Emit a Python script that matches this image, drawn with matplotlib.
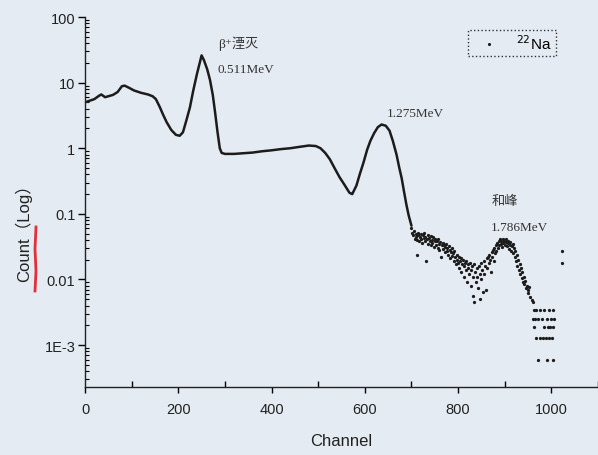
import matplotlib
matplotlib.use("Agg")
import matplotlib.pyplot as plt
from matplotlib.ticker import FixedLocator, FixedFormatter, NullFormatter
from matplotlib.lines import Line2D

# ---- data: smooth part of the 22Na spectrum (channel, count) ----
smooth_ch = [0, 10, 20, 30, 35, 43, 50, 60, 70, 79, 85, 95, 105, 120, 135, 145,
             152, 160, 167, 175, 185, 195, 203, 210, 217, 225, 232, 240, 246, 250,
             255, 262, 268, 274, 279, 284, 289, 293, 300, 320, 340, 360, 380, 400,
             420, 440, 460, 480, 495, 505, 515, 525, 535, 546, 556, 567, 573, 582,
             590, 597, 605, 612, 620, 628, 636, 645, 653, 660, 668, 674, 679, 684,
             689, 694, 700]
smooth_ct = [5.0, 5.3, 5.6, 6.3, 6.6, 6.0, 6.2, 6.5, 7.2, 8.8, 9.0, 8.3, 7.6, 7.0,
             6.6, 6.2, 5.6, 4.3, 3.3, 2.5, 1.9, 1.6, 1.55, 1.75, 2.6, 4.2, 7.5, 13.5,
             20, 26, 22, 16, 11, 6.5, 3.5, 1.8, 1.0, 0.85, 0.82, 0.82, 0.84, 0.86,
             0.9, 0.93, 0.97, 1.0, 1.05, 1.1, 1.08, 1.0, 0.85, 0.68, 0.5, 0.36, 0.28,
             0.21, 0.20, 0.27, 0.42, 0.6, 0.95, 1.3, 1.7, 2.1, 2.3, 2.2, 1.85, 1.3,
             0.8, 0.5, 0.35, 0.22, 0.14, 0.095, 0.066]

# ---- data: scattered low-count part (channel, count) ----
scatter_ch = [700, 702, 704, 706, 707, 709, 710, 711, 712, 714, 715, 717, 718, 720,
              721, 723, 724, 726, 727, 729, 730, 732, 733, 735, 736, 738, 739, 741,
              742, 744, 745, 747, 748, 750, 751, 753, 754, 756, 757, 759, 760, 762,
              764, 765, 767, 768, 770, 771, 773, 774, 776, 777, 779, 780, 782, 783,
              785, 786, 788, 789, 791, 792, 794, 795, 797, 798,
              800, 801, 803, 804, 806, 807, 809, 810, 812, 813, 815, 816, 818, 819,
              821, 822, 824, 825, 827, 828, 830, 831, 833, 834, 835, 837, 838, 840,
              841, 843, 844, 846, 847, 849, 850, 852, 853, 855, 856, 858, 860, 861,
              863, 864, 866, 867, 869, 870, 872, 873, 875, 876, 878, 879, 881, 882,
              884, 885, 887, 888, 890, 891, 893, 894, 896, 897, 899, 900, 902, 903,
              905, 906, 908, 909, 911, 912, 914, 915, 917, 918, 920, 921, 923, 924,
              926, 927, 929, 930, 932, 933, 935, 936, 938, 939, 941, 942, 944, 945,
              947, 949, 950, 953, 955, 958, 960,
              962, 968, 975, 985, 996, 1003,
              960, 965, 972, 980, 991, 1000, 1005,
              963, 985, 992, 998, 1004,
              966, 975, 982, 988, 994, 1002,
              971, 990, 1003,
              1022, 1023]
scatter_ct = [0.060, 0.052, 0.048, 0.055, 0.042, 0.050, 0.045, 0.024, 0.040, 0.052,
              0.047, 0.038, 0.044, 0.050, 0.041, 0.036, 0.047, 0.043, 0.052, 0.039,
              0.045, 0.019, 0.041, 0.048, 0.035, 0.043, 0.038, 0.046, 0.033, 0.040,
              0.036, 0.044, 0.031, 0.039, 0.042, 0.034, 0.038, 0.030, 0.041, 0.035,
              0.028, 0.037, 0.022, 0.033, 0.036, 0.029, 0.034, 0.026, 0.031, 0.035,
              0.027, 0.030, 0.024, 0.032, 0.028, 0.021, 0.026, 0.030, 0.023, 0.025,
              0.019, 0.027, 0.022, 0.017, 0.024, 0.020,
              0.018, 0.022, 0.015, 0.019, 0.021, 0.013, 0.017, 0.020, 0.011, 0.016,
              0.018, 0.014, 0.019, 0.009, 0.015, 0.017, 0.012, 0.018, 0.008, 0.014,
              0.016, 0.0057, 0.011, 0.017, 0.0045, 0.013, 0.009, 0.015, 0.011, 0.0075,
              0.016, 0.005, 0.012, 0.018, 0.010, 0.014, 0.0065, 0.019, 0.012, 0.016,
              0.0068, 0.021, 0.015, 0.022, 0.018, 0.024, 0.020, 0.013, 0.026, 0.022,
              0.028, 0.019, 0.030, 0.025, 0.033, 0.027, 0.036, 0.030, 0.038, 0.033,
              0.041, 0.035, 0.038, 0.031, 0.042, 0.036, 0.039, 0.034, 0.037, 0.041,
              0.032, 0.036, 0.038, 0.029, 0.034, 0.037, 0.027, 0.032, 0.035, 0.025,
              0.030, 0.022, 0.027, 0.019, 0.024, 0.016, 0.020, 0.014, 0.017, 0.012,
              0.015, 0.0105, 0.013, 0.009, 0.011, 0.0085, 0.0095, 0.0075, 0.008,
              0.0068, 0.0062, 0.0076, 0.0055, 0.0048, 0.0045,
              0.0034, 0.0034, 0.0034, 0.0034, 0.0034, 0.0034,
              0.0025, 0.0025, 0.0025, 0.0025, 0.0025, 0.0025, 0.0025,
              0.0019, 0.0019, 0.0019, 0.0019, 0.0019,
              0.0013, 0.0013, 0.0013, 0.0013, 0.0013, 0.0013,
              0.0006, 0.0006, 0.0006,
              0.027, 0.018]

ytick_vals = [1e-3, 1e-2, 1e-1, 1, 10, 100]
ytick_labels = ["1E-3", "0.01", "0.1", "1", "10", "100"]
xtick_vals = [0, 200, 400, 600, 800, 1000]
xtick_labels = ["0", "200", "400", "600", "800", "1000"]

bg = "#e5ebf3"
ink = "#1c1c1c"
sans = ["Liberation Sans", "Noto Sans CJK SC"]
serif = ["Liberation Serif", "DejaVu Serif", "Noto Sans CJK SC"]

fig = plt.figure(figsize=(5.98, 4.56), dpi=100, facecolor=bg)
ax = fig.add_axes([85 / 598, 68 / 456, 513 / 598, 370 / 456])
ax.set_facecolor(bg)

ax.plot(smooth_ch, smooth_ct, color=ink, lw=1.8, solid_capstyle="round")
ax.scatter(scatter_ch, scatter_ct, s=5.5, color=ink, linewidths=0)

ax.set_yscale("log")
ax.set_xlim(0, 1100)
ax.set_ylim(2.3e-4, 100)

for s in ["top", "right"]:
    ax.spines[s].set_visible(False)
for s in ["left", "bottom"]:
    ax.spines[s].set_linewidth(1.0)
    ax.spines[s].set_color("#222222")

ax.yaxis.set_major_locator(FixedLocator(ytick_vals))
ax.yaxis.set_major_formatter(FixedFormatter(ytick_labels))
ax.xaxis.set_major_locator(FixedLocator(xtick_vals))
ax.xaxis.set_major_formatter(FixedFormatter(xtick_labels))
ax.xaxis.set_minor_locator(FixedLocator([100, 300, 500, 700, 900, 1100]))
ax.xaxis.set_minor_formatter(NullFormatter())
ax.tick_params(axis="y", which="major", direction="out", length=5, width=1,
               pad=2, labelsize=10.5, labelcolor="#222222")
ax.tick_params(axis="y", which="minor", direction="in", length=3, width=0.8)
ax.tick_params(axis="x", which="major", direction="out", length=4, width=1,
               pad=7, labelsize=10.5, labelcolor="#222222")
ax.tick_params(axis="x", which="minor", direction="in", length=4, width=1)
for lab in ax.get_xticklabels() + ax.get_yticklabels():
    lab.set_family(sans)

ax.set_xlabel("Channel", family=sans, fontsize=12, color="#222222", labelpad=12)
ax.set_ylabel("Count（Log）", family=sans, fontsize=12, color="#222222")
ax.yaxis.set_label_coords(-0.104, 0.43)

ann = dict(family=serif, fontsize=9.5, color="#333333", va="center", ha="left")
ax.text(285, 40, "β⁺湮灭", **ann)
ax.text(285, 16, "0.511MeV", **ann)
ax.text(647, 3.4, "1.275MeV", **ann)
ax.text(871, 0.16, "和峰", **ann)
ax.text(871, 0.064, "1.786MeV", **ann)

handle = Line2D([], [], ls="none", marker=".", ms=2.5, color=ink)
leg = ax.legend([handle], ["$^{22}$Na"], loc="upper right",
                bbox_to_anchor=(0.918, 0.965), borderaxespad=0, frameon=True,
                fancybox=False, edgecolor="#333333", facecolor=bg, framealpha=1,
                handlelength=2.2, borderpad=0.25, handletextpad=0.7,
                prop={"family": sans, "size": 11})
leg.get_frame().set_linestyle(":")
leg.get_frame().set_linewidth(1.0)

# red pen mark next to the y label
fig.add_artist(Line2D([36 / 598, 35 / 598, 36 / 598, 35 / 598],
                      [1 - 228 / 456, 1 - 250 / 456, 1 - 272 / 456, 1 - 292 / 456],
                      color="#e0303a", lw=2.0, transform=fig.transFigure))

fig.savefig("out.png", dpi=100, facecolor=bg)
